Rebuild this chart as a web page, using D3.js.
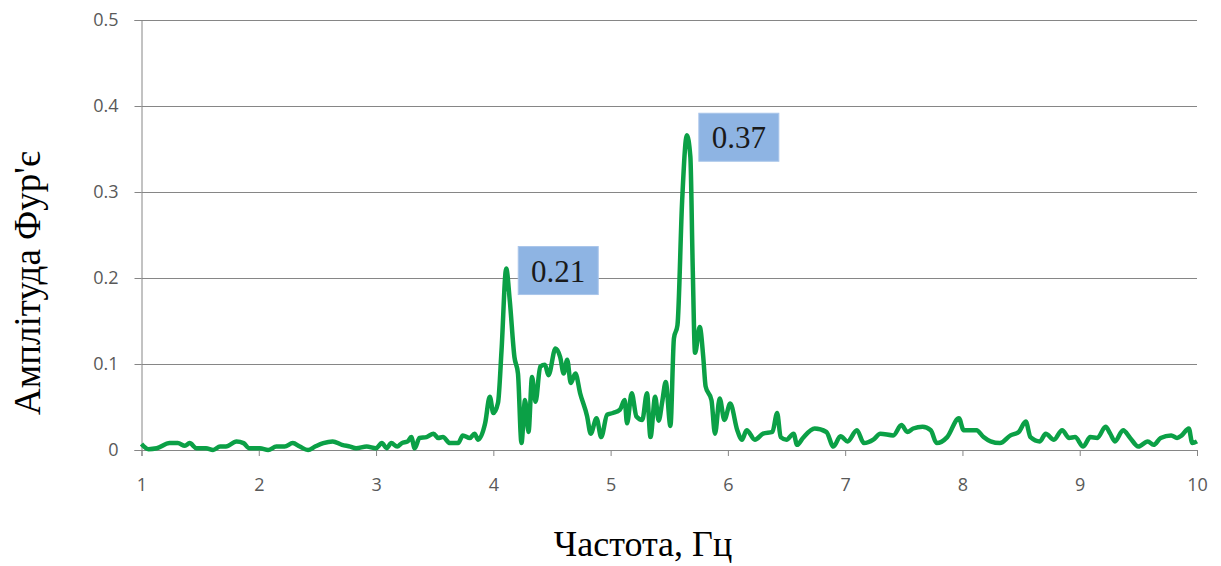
<!DOCTYPE html>
<html>
<head>
<meta charset="utf-8">
<script src="https://cdn.jsdelivr.net/npm/d3@7"></script>
<style>
  body { margin: 0; background: #fff; }
  svg { display: block; }
</style>
</head>
<body>
<div id="chart"></div>
<script>
// spectrum: frequency (Hz) and Fourier amplitude
var freq = [
  1.00, 1.06, 1.13, 1.24, 1.31, 1.37, 1.41, 1.47, 1.55, 1.61, 1.67, 1.72, 1.81, 1.87, 1.92,
  2.01, 2.08, 2.15, 2.22, 2.29, 2.35, 2.42, 2.48, 2.55, 2.63, 2.71, 2.78, 2.83, 2.92,
  3.00, 3.05, 3.09, 3.13, 3.18, 3.22, 3.27, 3.30, 3.33, 3.37, 3.43, 3.49, 3.53, 3.57, 3.63,
  3.70, 3.74, 3.80, 3.84, 3.87, 3.93, 3.97,
  4.00, 4.04, 4.07, 4.11, 4.14, 4.18, 4.21, 4.24, 4.27, 4.30, 4.33, 4.36, 4.40, 4.44, 4.47,
  4.53, 4.57, 4.60, 4.63, 4.66, 4.70, 4.74, 4.80, 4.83, 4.88, 4.92, 4.97,
  5.02, 5.08, 5.12, 5.14, 5.18, 5.22, 5.27, 5.31, 5.34, 5.38, 5.41, 5.44, 5.47, 5.51, 5.54,
  5.57, 5.61, 5.65, 5.68, 5.70, 5.72, 5.76, 5.79, 5.81, 5.86, 5.89, 5.93, 5.97,
  6.02, 6.08, 6.12, 6.16, 6.23, 6.30, 6.38, 6.42, 6.45, 6.50, 6.56, 6.59, 6.64, 6.74, 6.84,
  6.90, 6.96, 7.02, 7.10, 7.16, 7.24, 7.30, 7.41, 7.48, 7.53, 7.58, 7.66, 7.73, 7.78, 7.87,
  7.97, 8.01, 8.07, 8.12, 8.18, 8.24, 8.32, 8.41, 8.48, 8.54, 8.58, 8.66, 8.71, 8.78, 8.85,
  8.91, 8.96, 9.03, 9.09, 9.15, 9.22, 9.26, 9.30, 9.37, 9.43, 9.50, 9.58, 9.63, 9.69, 9.78,
  9.83, 9.87, 9.93, 9.96, 10.00
];
var amp = [
  0.007, 0.001, 0.002, 0.008, 0.008, 0.005, 0.008, 0.002, 0.002, 0.000, 0.004, 0.004, 0.010, 0.008, 0.002,
  0.002, 0.000, 0.004, 0.004, 0.008, 0.004, 0.000, 0.004, 0.008, 0.010, 0.006, 0.004, 0.002, 0.004,
  0.002, 0.008, 0.002, 0.008, 0.004, 0.008, 0.010, 0.015, 0.002, 0.014, 0.015, 0.019, 0.014, 0.015, 0.008,
  0.008, 0.017, 0.014, 0.019, 0.012, 0.031, 0.062,
  0.043, 0.055, 0.116, 0.211, 0.174, 0.108, 0.089, 0.008, 0.058, 0.021, 0.085, 0.056, 0.097, 0.099, 0.087,
  0.118, 0.108, 0.089, 0.105, 0.078, 0.089, 0.066, 0.039, 0.019, 0.037, 0.015, 0.041,
  0.043, 0.047, 0.058, 0.031, 0.066, 0.039, 0.035, 0.066, 0.015, 0.062, 0.034, 0.056, 0.079, 0.028, 0.130,
  0.145, 0.290, 0.366, 0.341, 0.213, 0.113, 0.143, 0.108, 0.074, 0.058, 0.019, 0.060, 0.035,
  0.054, 0.023, 0.012, 0.023, 0.012, 0.019, 0.021, 0.043, 0.015, 0.012, 0.019, 0.006, 0.014, 0.025, 0.021,
  0.004, 0.016, 0.010, 0.023, 0.008, 0.012, 0.019, 0.017, 0.029, 0.021, 0.025, 0.027, 0.023, 0.008, 0.015,
  0.037, 0.023, 0.023, 0.023, 0.015, 0.010, 0.008, 0.017, 0.021, 0.033, 0.015, 0.010, 0.019, 0.012, 0.023,
  0.014, 0.015, 0.004, 0.015, 0.014, 0.027, 0.019, 0.010, 0.023, 0.014, 0.004, 0.010, 0.006, 0.014, 0.017,
  0.014, 0.017, 0.025, 0.008, 0.010
];
var xTicks = [1, 2, 3, 4, 5, 6, 7, 8, 9, 10];
var yTicks = [0, 0.1, 0.2, 0.3, 0.4, 0.5];
var peakFreq = [4.11, 5.65];
var peakLabels = ["0.21", "0.37"];

var width = 1221, height = 566;
var margin = { left: 141.5, right: 24, top: 20, bottom: 116 };

var svg = d3.select("#chart").append("svg")
  .attr("width", width)
  .attr("height", height);

var x = d3.scaleLinear().domain([1, 10]).range([margin.left, width - margin.right]);
var y = d3.scaleLinear().domain([0, 0.5]).range([height - margin.bottom, margin.top]);

// horizontal gridlines
svg.append("g")
  .selectAll("line")
  .data(yTicks.slice(1))
  .enter().append("line")
  .attr("x1", x(1)).attr("x2", x(10))
  .attr("y1", function (d) { return Math.round(y(d)) + 0.5; })
  .attr("y2", function (d) { return Math.round(y(d)) + 0.5; })
  .attr("stroke", "#868686")
  .attr("stroke-width", 1);

// y axis
var yAxis = svg.append("g")
  .attr("transform", "translate(" + x(1) + ",0)")
  .call(d3.axisLeft(y).tickValues(yTicks).tickSize(7).tickPadding(16)
    .tickFormat(function (d) { return d === 0 ? "0" : d3.format(".1f")(d); }));

// x axis
var xAxis = svg.append("g")
  .attr("transform", "translate(0," + y(0) + ")")
  .call(d3.axisBottom(x).tickValues(xTicks).tickSize(6).tickPadding(22)
    .tickFormat(d3.format("d")));

[yAxis, xAxis].forEach(function (ax) {
  ax.select(".domain").attr("stroke", "#868686");
  ax.selectAll(".tick line").attr("stroke", "#868686");
  ax.selectAll(".tick text")
    .attr("fill", "#595959")
    .style("font-family", "'Open Sans', 'Liberation Sans', sans-serif")
    .style("font-size", "18px");
});

// the spectrum line
var points = freq.map(function (f, i) { return [f, amp[i]]; });
var line = d3.line()
  .x(function (d) { return x(d[0]); })
  .y(function (d) { return y(d[1]); })
  .curve(d3.curveMonotoneX);

svg.append("path")
  .datum(points)
  .attr("d", line)
  .attr("fill", "none")
  .attr("stroke", "#0BA046")
  .attr("stroke-width", 4.5)
  .attr("stroke-linejoin", "round");

// peak labels
peakFreq.forEach(function (f, k) {
  var v = amp[freq.indexOf(f)];
  var bx = x(f) + 12, by = y(v) - 22;
  var g = svg.append("g");
  g.append("rect")
    .attr("x", bx).attr("y", by)
    .attr("width", 80).attr("height", 48)
    .attr("fill", "#8EB4E3")
    .attr("stroke", "#A9C5EA")
    .attr("stroke-width", 1);
  g.append("text")
    .attr("x", bx + 40).attr("y", by + 35)
    .attr("text-anchor", "middle")
    .attr("fill", "#1a1a1a")
    .style("font-family", "'Liberation Serif', serif")
    .style("font-size", "31px")
    .text(peakLabels[k]);
});

// axis titles
svg.append("text")
  .attr("transform", "translate(40,283) rotate(-90)")
  .attr("text-anchor", "middle")
  .style("font-family", "'Liberation Serif', serif")
  .style("font-size", "37px")
  .text("Амплітуда Фур'є");

svg.append("text")
  .attr("x", 643).attr("y", 556)
  .attr("text-anchor", "middle")
  .style("font-family", "'Liberation Serif', serif")
  .style("font-size", "36px")
  .text("Частота, Гц");
</script>
</body>
</html>
